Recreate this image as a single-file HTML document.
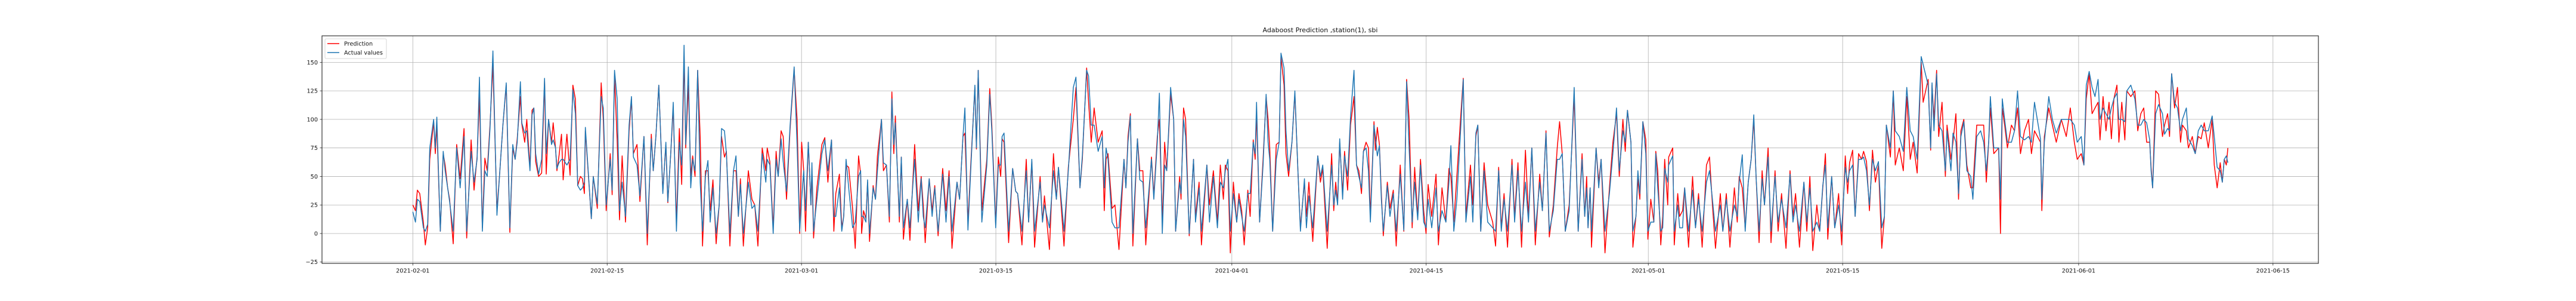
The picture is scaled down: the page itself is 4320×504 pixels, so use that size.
<!DOCTYPE html>
<html><head><meta charset="utf-8"><style>
html,body{margin:0;padding:0;background:#fff;}
svg{display:block;font-family:"DejaVu Sans","Liberation Sans",sans-serif;}
</style></head><body>
<svg id="chart" width="4320" height="504" viewBox="0 0 4320 504" xmlns="http://www.w3.org/2000/svg">
<rect x="0" y="0" width="4320" height="504" fill="#fff"/>
<g id="grid"></g>
<g id="series"></g>
<rect x="540" y="60" width="3348" height="381" fill="none" stroke="#222" stroke-width="1.1"/>
<g id="axes"></g>
<text x="2214" y="54" text-anchor="middle" font-size="11" fill="#111">Adaboost Prediction ,station(1), sbi</text>
<g>
<rect x="545" y="65" width="103" height="33" fill="#fff" fill-opacity="0.8" stroke="#ccc" stroke-width="0.8" rx="2"/>
<line x1="549" y1="73" x2="569" y2="73" stroke="#ff0000" stroke-width="1.6"/>
<text x="577" y="76.5" font-size="9.7" fill="#111">Prediction</text>
<line x1="549" y1="88" x2="569" y2="88" stroke="#1f77b4" stroke-width="1.6"/>
<text x="577" y="91.5" font-size="9.7" fill="#111">Actual values</text>
</g>
</svg>
<script>
const yTicks = [-25,0,25,50,75,100,125,150];
const xTickDays = [0,14,28,42,59,73,89,103,120,134];
const xTickLabels = ["2021-02-01","2021-02-15","2021-03-01","2021-03-15","2021-04-01","2021-04-15","2021-05-01","2021-05-15","2021-06-01","2021-06-15"];
const days = [0,0.19,0.33,0.5,0.76,0.9,1.07,1.22,1.5,1.62,1.73,1.98,2.19,2.33,2.51,2.65,2.91,3.16,3.41,3.69,3.88,4.2,4.41,4.63,4.8,5.01,5.19,5.36,5.56,5.77,6.06,6.27,6.49,6.73,6.99,7.2,7.37,7.52,7.75,7.85,8.06,8.21,8.44,8.59,8.72,8.85,9.06,9.28,9.49,9.61,9.78,9.99,10.11,10.28,10.38,10.53,10.71,10.83,11.1,11.33,11.53,11.71,11.88,12.07,12.22,12.36,
12.43,12.86,13.0,13.29,13.57,13.72,13.93,14.22,14.36,14.53,14.72,14.89,15.08,15.32,15.58,15.75,15.89,16.15,16.36,16.65,16.89,17.18,17.32,17.51,17.72,18.01,18.23,18.37,18.58,18.76,18.99,19.2,19.37,19.54,19.66,19.85,20.02,20.16,20.33,20.52,20.7,20.87,21.08,21.26,21.42,21.62,21.85,22.07,22.24,22.45,22.59,22.84,23.1,23.28,23.45,23.6,23.81,24.17,24.43,24.63,24.86,25.17,25.43,25.53,25.72,25.96,26.17,26.32,26.53,26.68,26.92,27.18,27.47,27.68,27.87,28.01,28.16,28.29,28.49,28.68,28.75,28.87,29.11,29.47,29.68,29.9,30.16,30.33,30.47,30.73,30.9,31.04,
31.21,31.4,31.68,31.87,32.11,32.26,32.33,32.47,32.64,32.76,32.9,33.16,33.33,33.47,33.76,33.9,34.12,34.33,34.51,34.65,34.76,35.05,35.19,35.34,35.62,35.81,36.15,36.41,36.62,36.77,36.91,37.2,37.41,37.6,37.84,38.17,38.41,38.63,38.84,39.2,39.39,39.63,39.77,39.99,40.2,40.49,40.6,40.73,40.99,41.35,41.56,41.71,41.99,42.18,42.35,42.45,42.59,42.92,43.21,43.43,43.57,43.88,44.19,44.36,44.59,44.79,45.19,45.36,45.5,45.86,46.15,46.36,46.51,46.91,47.22,47.58,47.77,48.06,48.23,48.54,48.68,48.87,49.08,49.37,49.66,49.81,49.94,
50.08,50.37,50.58,50.87,51.23,51.37,51.52,51.69,51.87,52.2,52.37,52.59,52.8,53.21,53.38,53.63,53.78,53.99,54.16,54.31,54.59,54.81,54.95,55.24,55.34,55.52,55.67,55.93,56.24,56.38,56.64,56.81,57.2,57.39,57.67,57.96,58.17,58.39,58.53,58.72,58.89,59.11,59.35,59.51,59.71,59.89,60.15,60.32,60.54,60.68,60.78,61.0,61.25,61.47,61.61,61.73,61.94,62.2,62.41,62.54,62.76,62.9,63.09,63.33,63.54,63.76,63.94,64.23,64.37,64.55,64.83,65.19,65.38,65.55,65.87,66.19,66.34,66.48,66.62,66.77,66.98,67.12,67.34,67.55,67.8,67.98,68.15,68.34,68.48,68.67,68.84,
68.98,69.24,69.34,69.48,69.63,69.77,69.91,70.2,70.39,70.63,70.84,71.13,71.39,71.59,71.77,71.99,72.17,72.39,72.59,72.82,72.99,73.14,73.4,73.71,73.88,74.14,74.42,74.64,74.78,74.99,75.21,75.5,75.67,75.86,76.19,76.36,76.58,76.72,76.93,77.17,77.43,77.79,78.0,78.22,78.41,78.61,78.86,79.18,79.37,79.61,79.87,80.15,80.37,80.61,80.86,81.18,81.37,81.63,81.87,82.16,82.44,82.61,82.8,83.02,83.3,83.66,83.95,84.23,84.42,84.56,84.66,84.81,84.91,85.24,85.43,85.6,85.88,86.2,86.45,86.71,86.91,87.17,87.34,87.5,87.75,
87.89,88.11,88.25,88.39,88.61,88.82,88.97,89.18,89.4,89.54,89.68,89.9,90.04,90.18,90.4,90.47,90.76,90.87,91.12,91.26,91.47,91.62,91.9,92.19,92.4,92.62,92.88,93.19,93.41,93.62,93.84,94.19,94.37,94.62,94.88,95.2,95.41,95.55,95.77,95.98,96.2,96.41,96.6,96.77,96.98,97.2,97.37,97.63,97.84,98.13,98.35,98.6,98.92,99.21,99.42,99.61,99.89,100.21,100.42,100.64,100.85,101.14,101.35,101.57,101.76,101.93,102.21,102.43,102.71,102.93,103.19,103.36,103.5,103.72,103.9,104.15,104.36,104.51,104.72,104.93,105.15,105.36,105.58,105.82,106.01,106.15,106.44,106.65,
106.79,107.08,107.37,107.62,107.87,108.08,108.37,108.66,108.8,109.16,109.34,109.44,109.58,109.77,109.92,110.16,110.4,110.52,110.8,110.95,111.16,111.35,111.52,111.73,111.95,112.23,112.38,112.66,112.94,113.16,113.35,113.52,113.64,113.89,114.24,114.37,114.5,114.67,114.87,115.16,115.38,115.6,115.81,116.1,116.39,116.6,116.82,117.25,117.35,117.53,117.85,118.11,118.39,118.75,119.11,119.4,119.69,119.9,120.19,120.38,120.55,120.76,
120.97,121.18,121.4,121.54,121.76,121.97,122.19,122.36,122.54,122.76,122.9,123.11,123.33,123.47,123.76,124.05,124.26,124.48,124.69,124.9,125.12,125.22,125.33,125.55,125.76,126.04,126.19,126.41,126.55,126.7,126.91,127.12,127.34,127.48,127.76,127.91,128.19,128.4,128.62,128.83,129.05,129.34,129.62,129.77,129.98,130.2,130.35,130.49,130.64,130.75];
const actual = [19,10,30,28,5,2,8,75,100,75,102,2,72,55,40,28,2,75,40,85,2,72,45,65,137,2,55,50,92,160,16,55,95,132,5,78,65,80,133,97,88,90,55,104,110,70,52,65,136,70,100,78,82,75,57,62,65,65,60,65,126,105,42,38,40,45,
93,13,50,26,120,110,25,65,38,143,118,20,45,15,95,120,67,60,33,85,0,83,55,85,130,35,80,28,70,115,2,80,60,165,78,146,40,65,55,143,45,2,50,64,10,40,0,25,92,90,70,0,55,68,15,43,0,45,22,25,2,70,45,65,60,0,65,50,83,63,37,95,146,78,2,30,55,20,80,25,62,2,30,70,82,55,82,15,15,40,2,15,
65,40,5,10,50,55,15,15,10,47,0,40,30,55,100,62,60,15,118,78,97,15,67,5,30,5,65,10,48,15,5,48,15,40,2,52,10,50,2,45,30,85,110,3,58,130,75,143,10,60,122,90,5,60,60,85,88,2,57,37,35,2,55,10,65,2,45,10,25,5,55,30,58,2,55,128,137,40,68,143,138,95,95,72,85,40,75,
65,10,5,5,65,40,80,103,0,83,47,45,5,65,30,80,123,0,60,55,128,100,2,45,35,100,85,0,65,10,40,2,60,10,50,5,45,40,55,65,2,35,10,30,15,2,35,35,80,70,115,10,60,122,80,65,2,65,80,158,145,90,55,80,125,55,2,48,5,33,5,68,50,60,2,60,25,38,25,83,30,68,50,102,143,60,50,40,72,75,55,
10,95,85,68,77,30,2,42,15,35,2,52,3,133,75,10,45,12,60,10,5,30,5,40,2,20,10,45,77,2,30,95,135,10,50,10,88,95,2,55,10,5,2,55,2,30,2,60,10,55,2,45,10,75,2,45,20,88,2,20,65,65,70,2,20,128,2,65,15,40,5,40,2,75,40,65,2,35,70,110,55,90,80,108,80,
2,15,55,35,98,70,2,10,10,70,40,2,5,57,45,60,68,2,25,5,5,40,2,38,5,30,2,45,55,30,2,25,2,30,2,25,15,45,69,2,45,65,104,48,2,48,25,67,2,50,10,30,5,52,10,25,2,45,10,40,2,10,2,42,60,5,50,5,25,2,58,45,55,60,15,65,65,67,55,25,65,55,63,5,15,95,75,125,
90,85,72,128,90,85,65,155,148,130,75,132,90,140,95,90,55,90,55,88,80,35,85,98,55,50,30,85,90,80,55,80,120,75,75,30,118,100,80,80,90,125,85,82,85,80,115,83,30,80,120,100,88,100,100,100,95,80,85,60,130,142,
128,120,135,100,110,105,100,110,118,123,100,100,98,125,130,118,95,95,100,97,82,55,40,105,113,105,87,92,90,140,115,110,90,100,110,83,77,70,90,95,90,90,103,85,58,55,45,65,68,62];
const predicted = [25,20,38,35,10,-10,5,65,98,70,95,2,70,60,40,30,-9,78,48,92,-4,82,38,67,120,5,66,55,95,148,20,55,95,130,1,75,65,83,120,96,80,100,58,108,110,63,50,53,134,52,100,80,97,75,55,68,87,47,87,51,130,118,42,50,48,35,
90,13,50,22,132,100,20,70,34,138,82,12,68,10,90,118,70,78,28,85,-10,87,55,85,130,37,78,27,70,110,10,92,43,155,75,130,50,68,50,143,85,-11,55,55,20,47,-9,25,85,67,72,-11,55,55,15,48,-11,55,30,25,-11,75,55,75,63,5,72,50,90,85,30,92,144,100,0,80,55,2,80,25,55,-4,40,78,84,45,82,2,35,52,5,15,
60,58,22,-13,68,52,0,20,13,45,-7,42,30,68,100,55,60,10,124,70,103,10,67,-5,30,-6,78,20,50,25,-8,48,20,42,-2,57,20,55,-13,45,30,85,88,10,62,128,74,143,20,65,127,95,8,67,50,83,80,-8,57,37,35,-10,65,10,63,-12,50,10,33,-14,70,30,58,-11,58,100,128,40,65,145,115,80,110,80,90,20,65,
70,22,25,-14,65,40,85,105,-11,83,55,55,-10,67,33,85,100,10,80,55,122,100,2,50,30,110,100,-2,65,15,45,-10,60,25,55,10,60,30,60,55,-17,45,10,35,20,-10,38,15,82,65,105,10,65,120,100,75,2,78,80,155,130,70,50,80,123,55,5,45,15,45,-7,68,45,57,-13,70,20,45,28,80,35,72,38,95,120,60,55,35,72,80,75,
15,98,73,93,78,35,-2,45,22,38,-11,60,2,135,100,5,58,15,65,20,0,43,15,52,-10,40,10,57,50,10,50,105,136,15,60,25,85,95,2,62,25,10,-11,58,5,35,-12,65,15,62,-12,73,15,75,-10,52,20,90,-3,25,75,98,70,2,25,120,2,70,15,50,5,40,-12,75,45,65,-17,40,80,105,50,100,72,108,80,
-12,15,48,30,98,82,-5,30,10,72,55,-10,15,65,25,67,75,-10,35,15,20,40,-12,50,5,35,-12,60,67,25,-13,35,2,35,-12,40,10,50,40,5,45,65,100,48,-8,55,25,75,-8,55,2,35,-13,55,15,35,-12,45,2,50,-15,25,2,40,70,-5,50,5,35,-10,68,35,62,73,15,70,65,72,63,20,73,45,60,-13,15,95,67,125,
60,75,55,120,65,80,53,150,115,135,73,130,100,143,85,115,50,95,65,80,105,30,90,100,60,40,40,95,95,95,45,80,110,70,75,0,110,95,75,95,90,110,70,90,100,70,90,80,20,85,110,95,80,100,85,110,80,65,70,60,118,140,
105,110,115,82,120,90,115,83,118,130,80,115,82,125,120,125,90,105,110,80,80,58,40,125,122,85,95,105,85,140,110,128,80,95,90,75,85,70,85,83,97,75,100,60,40,62,45,65,60,75];

const X0 = 692.3, PX_PER_DAY = 23.28;
const Y_ZERO = 391, PX_PER_UNIT = 1.911;
function xScale(d){ return X0 + d*PX_PER_DAY; }
function yScale(v){ return Y_ZERO - v*PX_PER_UNIT; }
const NS = "http://www.w3.org/2000/svg";
const grid = document.getElementById('grid');
const axes = document.getElementById('axes');
const series = document.getElementById('series');

yTicks.forEach(function(t){
  const y = yScale(t);
  const gl = document.createElementNS(NS,'line');
  gl.setAttribute('x1',540); gl.setAttribute('x2',3888);
  gl.setAttribute('y1',y); gl.setAttribute('y2',y);
  gl.setAttribute('stroke','#b0b0b0'); gl.setAttribute('stroke-width','0.8');
  
  
  grid.appendChild(gl);
  const tk = document.createElementNS(NS,'line');
  tk.setAttribute('x1',536.5); tk.setAttribute('x2',540);
  tk.setAttribute('y1',y); tk.setAttribute('y2',y);
  tk.setAttribute('stroke','#222'); tk.setAttribute('stroke-width','0.8');
  
  
  axes.appendChild(tk);
  const lb = document.createElementNS(NS,'text');
  lb.setAttribute('x',533); lb.setAttribute('y',y+3.4);
  lb.setAttribute('text-anchor','end'); lb.setAttribute('font-size','9.7'); lb.setAttribute('fill','#111');
  lb.textContent = (t<0 ? '\u2212'+Math.abs(t) : String(t));
  
  
  axes.appendChild(lb);
});
xTickDays.forEach(function(d,i){
  const x = xScale(d);
  const gl = document.createElementNS(NS,'line');
  gl.setAttribute('x1',x); gl.setAttribute('x2',x);
  gl.setAttribute('y1',60); gl.setAttribute('y2',441);
  gl.setAttribute('stroke','#b0b0b0'); gl.setAttribute('stroke-width','0.8');
  
  
  grid.appendChild(gl);
  const tk = document.createElementNS(NS,'line');
  tk.setAttribute('x1',x); tk.setAttribute('x2',x);
  tk.setAttribute('y1',441); tk.setAttribute('y2',444.5);
  tk.setAttribute('stroke','#222'); tk.setAttribute('stroke-width','0.8');
  
  
  axes.appendChild(tk);
  const lb = document.createElementNS(NS,'text');
  lb.setAttribute('x',x); lb.setAttribute('y',456.5);
  lb.setAttribute('text-anchor','middle'); lb.setAttribute('font-size','9.7'); lb.setAttribute('fill','#111');
  lb.textContent = xTickLabels[i];
  
  
  axes.appendChild(lb);
});
function pathFor(vals){
  let s = '';
  for (let i=0;i<days.length && i<vals.length;i++){
    s += (i?'L':'M') + xScale(days[i]).toFixed(2) + ',' + yScale(vals[i]).toFixed(2);
  }
  return s;
}
const pred = document.createElementNS(NS,'path');
pred.setAttribute('d', pathFor(predicted));
pred.setAttribute('fill','none'); pred.setAttribute('stroke','#ff0000'); pred.setAttribute('stroke-width','1.5');
pred.setAttribute('stroke-linejoin','round');


series.appendChild(pred);
const act = document.createElementNS(NS,'path');
act.setAttribute('d', pathFor(actual));
act.setAttribute('fill','none'); act.setAttribute('stroke','#1f77b4'); act.setAttribute('stroke-width','1.5');
act.setAttribute('stroke-linejoin','round');


series.appendChild(act);
</script>
</body></html>
